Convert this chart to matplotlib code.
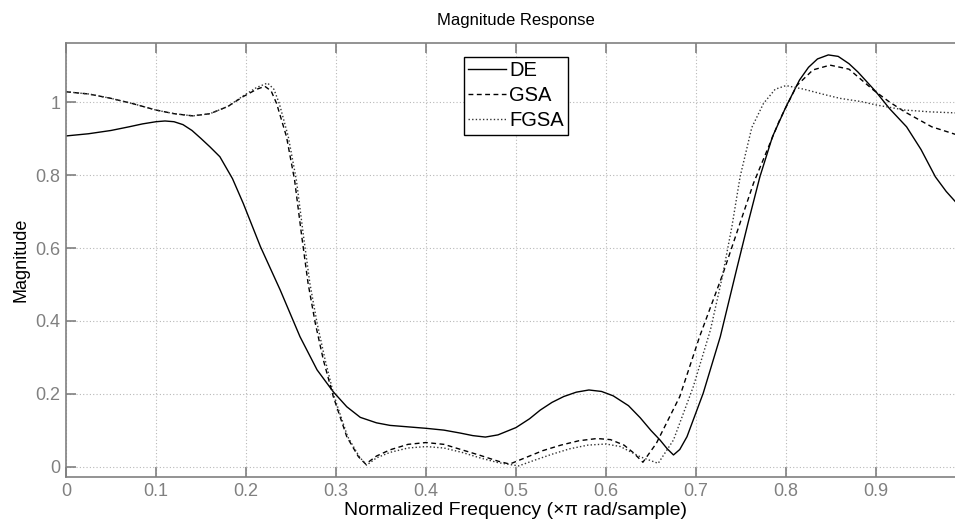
import matplotlib
matplotlib.use('Agg')
import matplotlib.pyplot as plt
import numpy as np

plt.rcParams['font.family'] = ['Liberation Sans', 'DejaVu Sans']

# DE (solid)
de_f = [0.000, 0.025, 0.050, 0.070, 0.085, 0.100, 0.110, 0.120, 0.130, 0.140,
        0.150, 0.160, 0.171, 0.185, 0.197, 0.216, 0.238, 0.260, 0.279, 0.297,
        0.312, 0.327, 0.345, 0.360, 0.380, 0.400, 0.420, 0.438, 0.452, 0.466,
        0.480, 0.500, 0.515, 0.527, 0.540, 0.553, 0.567, 0.581, 0.595, 0.608,
        0.625, 0.638, 0.650, 0.660, 0.668, 0.675, 0.682, 0.690, 0.708, 0.727,
        0.745, 0.758, 0.771, 0.785, 0.800, 0.815, 0.825, 0.835, 0.847, 0.858,
        0.870, 0.880, 0.890, 0.900, 0.915, 0.934, 0.950, 0.966, 0.978, 0.990]
de_m = [0.907, 0.913, 0.922, 0.932, 0.940, 0.946, 0.948, 0.946, 0.938, 0.922,
        0.900, 0.877, 0.850, 0.790, 0.722, 0.604, 0.485, 0.357, 0.266, 0.206,
        0.165, 0.136, 0.121, 0.114, 0.110, 0.106, 0.101, 0.093, 0.086, 0.082,
        0.088, 0.108, 0.132, 0.156, 0.177, 0.193, 0.205, 0.211, 0.207, 0.195,
        0.168, 0.135, 0.100, 0.074, 0.050, 0.033, 0.048, 0.083, 0.202, 0.357,
        0.540, 0.670, 0.795, 0.905, 0.987, 1.060, 1.095, 1.118, 1.129, 1.125,
        1.105, 1.082, 1.055, 1.028, 0.982, 0.932, 0.870, 0.795, 0.755, 0.722]

# GSA (dashed)
gsa_f = [0.000, 0.025, 0.050, 0.075, 0.100, 0.120, 0.141, 0.160, 0.180, 0.197,
         0.212, 0.221, 0.228, 0.234, 0.245, 0.254, 0.262, 0.269, 0.277, 0.286,
         0.297, 0.312, 0.325, 0.333, 0.345, 0.360, 0.380, 0.400, 0.420, 0.440,
         0.460, 0.480, 0.493, 0.510, 0.530, 0.550, 0.570, 0.590, 0.605, 0.620,
         0.630, 0.641, 0.656, 0.682, 0.704, 0.730, 0.764, 0.793, 0.812, 0.830,
         0.849, 0.870, 0.897, 0.915, 0.932, 0.962, 0.990]
gsa_m = [1.028, 1.022, 1.010, 0.995, 0.978, 0.968, 0.962, 0.968, 0.988, 1.015,
         1.035, 1.043, 1.030, 0.996, 0.905, 0.786, 0.631, 0.503, 0.394, 0.293,
         0.193, 0.083, 0.028, 0.008, 0.030, 0.047, 0.062, 0.067, 0.062, 0.047,
         0.032, 0.016, 0.008, 0.025, 0.045, 0.060, 0.072, 0.078, 0.075, 0.060,
         0.040, 0.013, 0.065, 0.193, 0.357, 0.530, 0.778, 0.951, 1.045, 1.088,
         1.101, 1.090, 1.033, 1.000, 0.973, 0.932, 0.910]

# FGSA (dotted)
fgsa_f = [0.000, 0.025, 0.050, 0.075, 0.100, 0.120, 0.141, 0.160, 0.180, 0.197,
          0.212, 0.224, 0.231, 0.237, 0.247, 0.256, 0.264, 0.271, 0.279, 0.288,
          0.298, 0.313, 0.326, 0.334, 0.345, 0.360, 0.380, 0.400, 0.420, 0.440,
          0.460, 0.480, 0.503, 0.520, 0.540, 0.560, 0.580, 0.600, 0.616, 0.638,
          0.658, 0.675, 0.697, 0.716, 0.729, 0.740, 0.749, 0.762, 0.775, 0.788,
          0.800, 0.820, 0.840, 0.860, 0.884, 0.900, 0.932, 0.960, 0.990]
fgsa_m = [1.028, 1.022, 1.010, 0.995, 0.978, 0.968, 0.962, 0.968, 0.988, 1.017,
          1.040, 1.052, 1.035, 0.996, 0.905, 0.786, 0.631, 0.503, 0.394, 0.293,
          0.193, 0.083, 0.028, 0.005, 0.025, 0.040, 0.052, 0.056, 0.052, 0.040,
          0.025, 0.012, 0.003, 0.018, 0.035, 0.050, 0.060, 0.063, 0.056, 0.028,
          0.010, 0.074, 0.220, 0.375, 0.518, 0.660, 0.795, 0.930, 0.996, 1.035,
          1.045, 1.035, 1.022, 1.010, 1.001, 0.992, 0.978, 0.973, 0.970]

x_ticks = [0, 0.1, 0.2, 0.3, 0.4, 0.5, 0.6, 0.7, 0.8, 0.9]
x_labels = ['0', '0.1', '0.2', '0.3', '0.4', '0.5', '0.6', '0.7', '0.8', '0.9']
y_ticks = [0, 0.2, 0.4, 0.6, 0.8, 1.0]
y_labels = ['0', '0.2', '0.4', '0.6', '0.8', '1']

fig = plt.figure(figsize=(9.55, 5.24), dpi=100, facecolor='white')
ax = fig.add_axes([0.0691, 0.0897, 0.9424, 0.8282])

ax.plot(de_f, de_m, color='black', lw=1.0, ls='-', label='DE')
ax.plot(gsa_f, gsa_m, color='black', lw=1.0, ls=(0, (3.5, 2.5)), label='GSA')
ax.plot(fgsa_f, fgsa_m, color='#333333', lw=1.0, ls=(0, (1, 1.6)), label='FGSA')

ax.set_xlim(0, 1)
ax.set_ylim(-0.0274, 1.1616)
ax.set_xticks(x_ticks)
ax.set_xticklabels(x_labels)
ax.set_yticks(y_ticks)
ax.set_yticklabels(y_labels)

grey = '#808080'
for s in ax.spines.values():
    s.set_color(grey)
    s.set_linewidth(1.2)
ax.tick_params(direction='in', length=7, width=1.2, color=grey, labelcolor=grey,
               labelsize=13, top=True, right=True, pad=4)
ax.grid(True, color='#b8b8b8', ls=(0, (1, 2)), lw=0.8)

ax.set_title('Magnitude Response', fontsize=12, pad=13)
ax.set_xlabel('Normalized Frequency (\u00d7\u03c0 rad/sample)', fontsize=14, labelpad=2)
ax.set_ylabel('Magnitude', fontsize=13, labelpad=4)

leg = ax.legend(loc='upper center', bbox_to_anchor=(0.5, 0.968), fontsize=14.5,
                handlelength=1.9, handletextpad=0.15, borderpad=0.22,
                labelspacing=0.3, borderaxespad=0.0, fancybox=False, framealpha=1)
leg.get_frame().set_edgecolor('black')
leg.get_frame().set_linewidth(1.0)

fig.savefig('out.png', dpi=100)
